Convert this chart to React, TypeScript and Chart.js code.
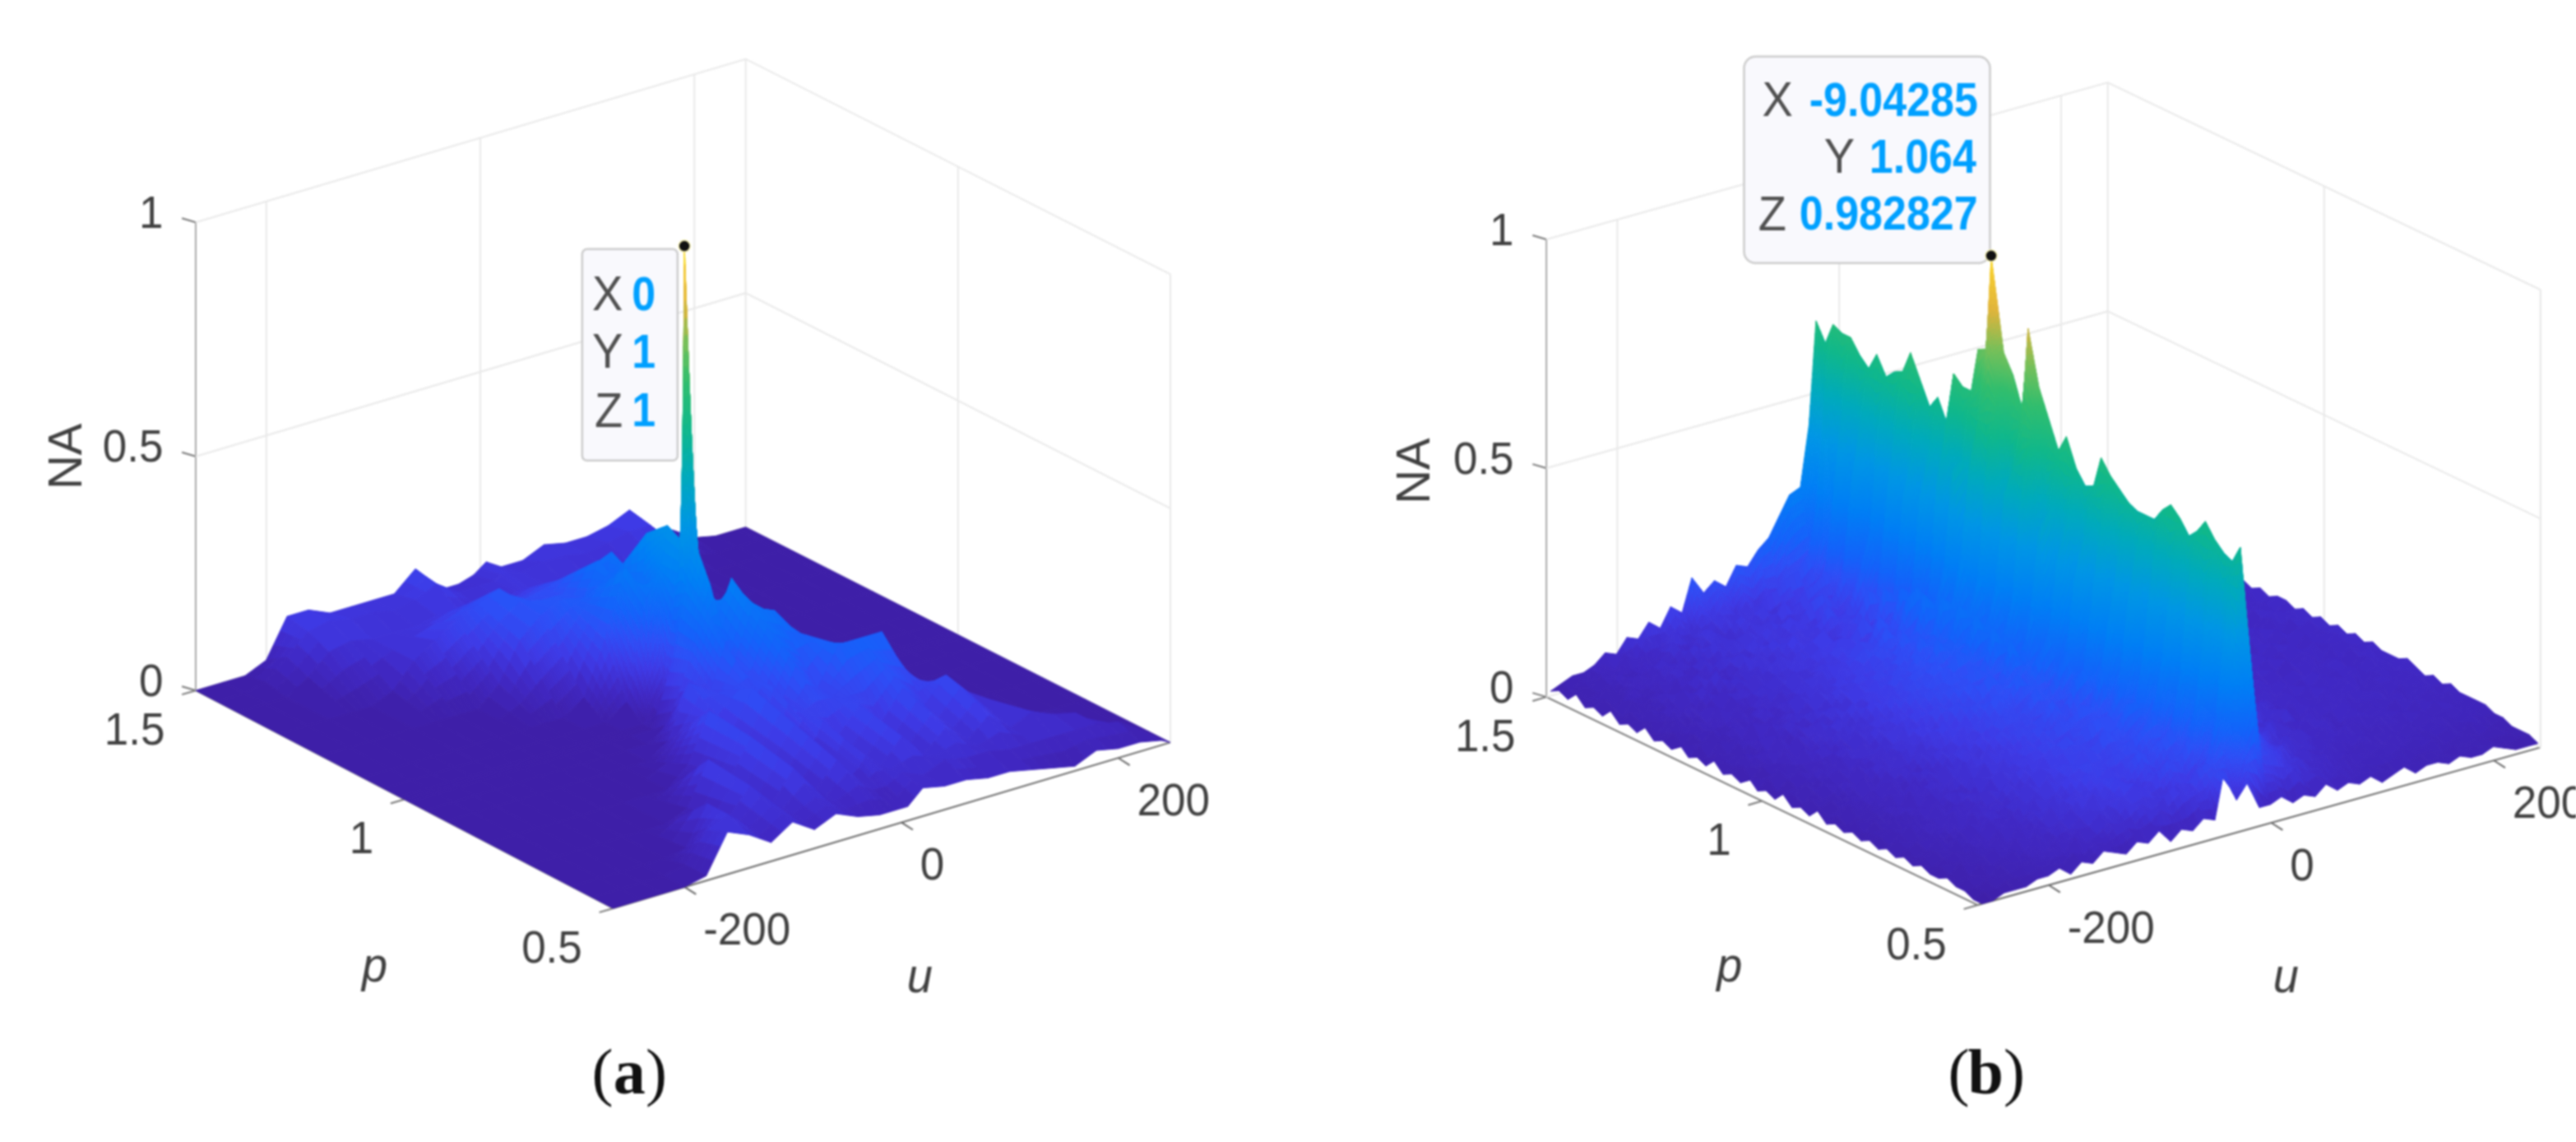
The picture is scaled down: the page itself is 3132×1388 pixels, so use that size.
import React, { useEffect, useRef } from "react";
import { Chart, registerables } from "chart.js";

Chart.register(...registerables);

// ---------- data (NA in percent) ----------
const uTicks = [-200, 0, 200];
const pTicks = [1.5, 1, 0.5];
const zTicks = [0, 0.5, 1];
const zTickLabels = ["0", "0.5", "1"];
const pTickLabels = ["1.5", "1", "0.5"];
const uTickLabels = ["-200", "0", "200"];

const uGridA = [-266, -240, -220, -200, -180, -160, -140, -120, -100, -80, -60, -40, -20, -6, 0, 6, 20, 40, 60, 80, 100, 120, 140, 160, 180, 200, 220, 240, 248];
const pGridA = [1.5, 1.45, 1.4, 1.3, 1.2, 1.1, 1.05, 1.012, 1, 0.988, 0.95, 0.9, 0.8, 0.7, 0.6, 0.55, 0.5];
const naA = [
  [0,0,0,2,10,10,8,8,8,8,12,6,6,7,8,9,7,7,9,8,8,9,11,5,4,1,0,0,0],
  [0,0,1,5,9,10,9,9,8,9,11,8,8,8,9,9,8,9,9,8,9,10,10,5,1,0,0,0,0],
  [0,0,0,3,7,8,7,7,7,8,8,7,7,8,8,8,8,7,7,7,7,7,5,1,0,0,0,0,0],
  [0,0,0,0,0,2,7,10,13,15,17,13,14,15,15,14,13,12,11,9,7,2,0,0,0,0,0,0,0],
  [0,0,0,0,0,0,0,0,4,12,16,18,17,24,18,25,17,15,9,3,0,0,0,0,0,0,0,0,0],
  [0,0,0,0,0,0,0,0,0,0,3,14,28,18,34,20,28,6,0,0,0,0,0,0,0,0,0,0,0],
  [0,0,0,0,0,0,0,0,0,0,0,3,24,30,38,22,16,0,0,0,0,0,0,0,0,0,0,0,0],
  [0,0,0,0,0,0,0,0,0,0,0,0,6,30,36,28,5,0,0,0,0,0,0,0,0,0,0,0,0],
  [0,0,0,0,0,0,0,0,0,0,0,0,4,32,100,32,4,0,0,0,0,0,0,0,0,0,0,0,0],
  [0,0,0,0,0,0,0,0,0,0,0,0,14,30,38,32,15,5,0,0,0,0,0,0,0,0,0,0,0],
  [0,0,0,0,0,0,0,0,0,0,0,3,15,26,30,22,30,20,3,0,0,0,0,0,0,0,0,0,0],
  [0,0,0,0,0,0,0,0,0,0,3,14,11,20,14,18,26,24,18,6,0,0,0,0,0,0,0,0,0],
  [0,0,0,0,0,0,0,0,0,4,14,8,16,10,15,11,18,12,20,20,20,5,0,0,0,0,0,0,0],
  [0,0,0,0,0,0,0,2,11,6,13,7,13,8,9,12,8,13,8,14,9,14,9,6,1,0,0,0,0],
  [0,0,0,0,0,1,9,5,10,5,11,5,10,6,7,9,6,11,6,10,6,10,6,8,6,5,1,0,0],
  [0,0,0,0,1,7,9,5,8,5,7,5,7,5,5,5,7,5,7,6,6,5,5,5,5,5,4,1,0],
  [0,0,0,0,1,9,7,4,7,4,6,4,3,3,3,3,6,5,5,4,4,3,2,1,3,2,2,1,0],
];

const uGridB = [-260,-250,-240,-230,-220,-210,-200,-190,-180,-170,-160,-150,-140,-130,-120,-110,-100,-90,-80,-70,-60,-50,-40,-30,-20,-10,0,10,20,30,40,50,60,70,80,90,100,110,120,130,140,150,160,170,180,190,200,210,220,230,240];
const pGridB = [1.5,1.48,1.46,1.44,1.42,1.4,1.38,1.36,1.34,1.32,1.3,1.28,1.26,1.24,1.22,1.2,1.18,1.16,1.14,1.12,1.1,1.08,1.06,1.04,1.02,1,0.98,0.96,0.94,0.92,0.9,0.88,0.86,0.84,0.82,0.8,0.78,0.76,0.74,0.72,0.7,0.68,0.66,0.64,0.62,0.6,0.58,0.56,0.54,0.52,0.5];
const naB = [
  [1,2,3,3,4,6,5,8,7,10,8,12,10,17,13,15,13,17,16,19,21,25,29,30,43,65,12,5,4,6,3,5,4,6,3,4,5,3,5,4,3,5,4,3,4,5,3,4,3,4,3],
  [2,1,3,2,5,3,6,4,8,5,7,9,6,10,8,11,7,10,7,9,8,10,10,12,20,61,10,4,6,3,5,4,6,3,5,4,3,5,4,6,3,4,5,3,5,4,3,5,4,3,4],
  [1,3,2,4,3,5,3,6,4,7,9,5,8,6,10,7,9,8,11,12,14,15,18,30,52,66,9,6,3,5,4,6,3,5,4,6,4,3,6,4,5,3,5,4,4,5,3,4,5,4,4],
  [3,1,2,3,5,2,6,4,5,8,4,7,9,6,8,10,7,11,6,8,9,9,10,12,18,65,11,3,5,6,4,3,5,6,3,5,4,6,3,5,4,6,3,5,4,3,5,4,4,5,4],
  [1,2,4,2,4,5,3,7,4,6,8,5,9,7,6,9,8,7,12,9,13,14,16,34,50,65,8,5,4,3,6,5,4,3,6,4,5,3,5,6,3,4,5,4,5,3,4,5,4,4,5],
  [2,3,1,3,5,3,6,5,7,4,7,9,6,8,9,7,10,8,7,9,7,10,9,11,16,62,10,6,3,5,4,6,3,5,5,3,6,4,4,5,5,3,6,4,3,5,5,3,5,4,4],
  [1,2,3,5,2,5,4,7,3,8,5,6,9,7,8,10,7,11,9,13,14,12,18,36,48,60,9,4,5,6,3,4,6,4,3,6,5,4,3,6,4,5,3,5,5,4,3,5,4,5,5],
  [3,1,4,2,4,3,6,4,6,5,8,7,5,10,6,9,8,9,9,7,10,9,8,12,22,64,11,5,3,5,6,3,5,4,6,4,3,5,6,3,5,4,5,4,3,6,4,4,5,4,6],
  [1,3,2,3,5,4,3,7,5,6,4,9,7,8,10,7,10,8,10,14,10,13,20,28,46,60,8,6,4,4,5,6,3,6,4,5,4,5,3,6,4,4,6,3,5,4,5,5,3,5,5],
  [2,2,4,2,4,6,4,5,8,4,7,6,9,6,8,11,8,9,8,8,12,9,10,13,18,62,10,4,6,5,3,4,6,4,5,3,6,4,5,5,3,6,4,4,6,3,5,4,5,4,6],
  [1,3,2,5,3,4,7,3,6,7,5,8,7,9,7,9,10,12,7,12,11,18,16,35,50,63,9,5,3,6,5,4,4,6,3,6,4,5,4,6,4,3,6,5,3,5,4,6,4,5,5],
  [3,1,3,3,5,3,5,6,4,6,8,5,9,7,10,8,9,10,9,10,10,9,12,15,24,68,11,6,5,4,3,6,5,3,6,4,5,4,6,3,5,5,4,3,6,5,4,4,6,4,6],
  [1,2,4,2,4,5,3,6,7,5,6,8,6,10,7,11,9,12,11,15,12,20,18,38,48,63,8,4,6,5,6,3,4,6,5,4,3,6,4,5,4,6,5,3,5,6,3,5,4,6,5],
  [2,3,2,4,3,6,4,5,4,8,6,7,9,6,9,8,12,9,10,9,12,10,12,13,20,58,10,5,3,6,4,5,6,4,3,6,5,4,6,3,6,4,4,6,4,3,6,5,4,5,6],
  [1,1,3,3,5,3,6,3,7,5,7,6,8,8,10,9,10,13,12,17,14,22,20,40,50,61,9,6,5,4,6,3,5,5,6,4,4,6,3,5,5,4,6,3,6,4,4,6,5,4,6],
  [3,2,2,4,2,5,4,6,5,6,5,9,7,10,8,11,11,12,12,11,14,12,14,14,20,56,12,4,6,6,3,6,4,4,5,6,3,5,6,4,3,6,5,4,5,6,3,5,4,6,5],
  [1,3,3,2,5,4,3,7,4,7,8,6,9,7,11,9,14,12,17,14,22,24,20,44,56,68,9,7,4,5,6,4,6,5,3,5,6,4,4,6,5,3,6,4,6,3,5,5,4,6,6],
  [2,1,4,3,3,6,5,4,6,5,7,9,7,11,8,12,10,15,11,16,12,15,16,16,22,66,11,5,8,4,5,6,4,6,5,4,6,3,6,4,5,5,4,6,3,6,4,5,6,4,5],
  [1,3,2,4,4,3,6,5,7,6,6,8,10,8,12,9,13,11,18,15,25,22,30,50,52,66,10,6,5,7,4,6,5,4,6,5,3,6,5,4,6,4,3,6,5,4,6,3,5,6,6],
  [3,2,3,2,5,5,4,7,4,8,7,6,9,11,9,13,10,16,11,17,14,18,16,18,26,76,12,8,6,5,7,4,5,6,4,6,5,5,3,6,5,4,6,4,4,6,3,6,5,4,5],
  [1,2,4,3,3,6,3,6,6,5,9,7,8,10,12,10,14,12,19,16,26,24,34,52,62,77,11,7,9,5,6,5,6,4,5,6,3,6,5,4,6,4,5,6,3,5,6,4,5,5,6],
  [2,3,2,5,4,4,6,5,8,6,7,10,7,11,9,14,11,17,12,18,15,20,20,28,62,98,14,9,7,6,8,5,4,6,6,4,6,4,5,6,3,6,5,4,6,4,4,6,5,4,6],
  [1,1,3,3,5,3,5,7,5,9,6,8,11,9,12,11,15,13,20,17,26,24,32,54,64,78,13,8,10,6,5,7,5,6,4,6,5,5,6,3,6,4,5,6,4,6,3,5,6,5,5],
  [3,2,2,4,3,6,4,6,7,6,8,7,9,12,10,14,12,17,13,18,16,20,18,22,32,74,12,10,7,8,6,5,7,4,6,5,6,3,6,5,4,6,5,3,6,5,4,6,4,6,6],
  [1,3,4,2,4,4,7,4,6,8,6,10,8,10,13,11,15,13,19,18,26,22,32,50,56,67,15,9,11,7,6,8,5,6,5,6,4,6,4,6,5,4,6,5,4,6,5,3,6,5,5],
  [2,1,3,4,3,5,3,7,5,7,9,7,11,9,11,14,12,16,13,16,14,20,18,26,60,86,16,19,10,16,9,13,7,10,6,8,6,5,6,3,6,5,5,4,6,4,6,4,5,6,6],
  [1,2,2,3,5,3,6,5,8,5,8,9,8,12,10,12,15,13,18,16,25,21,32,52,62,74,18,11,17,9,14,7,11,7,9,6,7,5,4,6,5,6,3,6,5,4,5,6,4,5,5],
  [3,2,4,2,4,5,4,6,6,7,7,10,9,9,13,11,13,16,12,15,13,18,16,20,28,68,15,18,10,15,8,12,6,10,7,8,6,4,6,5,4,6,5,4,6,5,3,6,5,5,6],
  [1,1,3,4,3,4,6,4,7,5,9,7,11,8,10,14,11,15,18,15,24,19,30,46,50,62,20,11,19,10,15,8,11,6,9,7,7,6,5,6,4,5,6,4,5,6,4,5,4,6,5],
  [2,3,2,3,5,3,5,7,5,8,6,9,8,12,9,12,14,12,14,16,13,18,15,20,30,66,17,20,12,16,9,13,7,10,6,8,6,6,4,6,5,4,6,5,4,5,6,4,5,5,6],
  [1,2,3,2,4,6,3,6,6,6,8,6,10,9,11,10,13,16,14,19,16,22,26,42,50,60,22,13,21,11,16,8,12,6,9,5,8,6,5,4,6,5,4,6,4,6,3,6,4,5,5],
  [3,1,2,4,3,4,5,5,7,4,7,9,7,11,8,13,11,14,12,12,16,14,16,18,24,57,19,22,12,18,10,13,7,11,6,9,6,4,6,5,5,6,3,5,6,4,5,4,6,4,6],
  [1,2,4,2,5,3,6,3,6,7,5,8,9,8,11,9,14,12,13,18,15,20,24,40,48,58,23,14,24,12,17,9,13,7,10,5,8,5,5,6,4,5,6,4,5,5,6,3,5,6,5],
  [2,1,2,3,3,5,4,6,4,6,8,6,10,7,10,12,10,13,12,10,14,12,15,18,28,65,18,22,13,18,10,14,7,12,6,9,6,4,6,5,6,4,5,6,4,5,5,4,6,4,5],
  [1,3,2,3,4,3,6,4,7,5,6,9,7,10,8,11,13,11,14,17,13,20,22,38,52,62,24,15,25,12,18,9,13,7,10,5,8,5,6,4,6,5,4,6,5,4,6,4,5,5,5],
  [2,1,3,2,5,4,3,6,5,7,7,6,9,8,11,9,11,14,10,13,12,13,15,16,24,60,20,24,14,19,11,14,8,11,5,9,4,6,5,6,4,6,5,4,5,6,3,5,5,4,6],
  [1,2,2,4,2,5,4,5,6,4,8,7,7,10,8,12,10,12,15,14,17,16,24,36,48,58,25,16,23,12,17,9,13,6,9,6,7,6,4,6,5,4,6,4,6,3,5,5,4,5,5],
  [2,2,3,2,4,3,6,3,7,6,5,8,9,7,11,9,13,11,10,13,10,14,12,16,24,57,21,25,15,19,11,14,8,10,5,8,6,4,6,5,4,6,4,5,5,4,5,5,4,5,4],
  [1,1,3,4,3,4,4,6,4,7,7,6,8,10,8,11,10,14,12,15,16,16,22,38,50,57,26,16,22,12,15,8,11,6,9,5,7,5,4,6,5,4,6,4,5,5,3,5,4,5,5],
  [2,3,2,2,5,3,6,4,6,5,6,9,6,9,10,9,12,11,12,10,13,14,12,14,22,57,21,24,14,17,11,13,6,10,6,5,8,4,6,4,5,6,3,5,5,4,5,3,5,4,4],
  [1,2,3,3,3,5,3,6,5,7,5,7,9,7,10,11,10,13,12,16,14,20,20,34,50,60,25,17,21,12,15,8,10,5,8,6,4,6,5,5,3,6,4,5,3,5,4,4,5,3,5],
  [2,1,2,4,2,4,5,4,7,4,8,6,8,10,8,12,11,11,11,11,13,11,15,16,26,62,20,22,13,16,9,11,7,9,5,6,5,5,6,3,5,5,4,5,4,3,5,4,3,5,4],
  [1,2,3,2,4,3,4,6,4,6,5,8,7,8,11,9,13,10,13,13,15,17,20,32,46,60,22,17,19,10,13,8,9,6,6,7,4,6,4,5,5,3,5,4,5,4,3,5,4,3,4],
  [2,1,2,3,2,5,3,5,5,5,7,6,9,7,9,12,10,12,9,12,10,14,12,14,24,57,18,20,14,14,9,10,6,8,5,6,5,4,6,4,3,5,4,4,3,5,3,4,4,3,4],
  [1,2,2,2,3,3,5,3,6,4,6,8,6,10,8,10,11,9,12,15,13,16,18,30,48,59,21,16,17,11,11,7,8,5,7,4,5,5,3,5,4,4,3,5,3,4,4,3,4,3,4],
  [1,1,3,2,3,4,3,5,4,6,5,6,8,7,10,8,12,10,8,11,9,12,13,15,28,62,19,18,13,13,9,9,6,7,4,6,4,3,5,4,3,5,3,4,3,4,3,3,4,3,3],
  [2,1,1,3,2,3,4,3,6,3,7,5,7,8,7,9,9,11,9,12,14,13,18,28,44,59,17,14,15,10,10,7,6,5,6,3,5,4,3,4,4,3,4,3,3,4,2,4,3,2,3],
  [1,2,2,1,3,3,2,5,3,5,4,6,6,8,6,10,8,9,8,7,10,9,10,12,20,57,16,15,11,11,7,8,5,6,4,5,3,4,4,3,4,3,3,4,2,3,3,2,3,2,2],
  [1,1,2,2,2,3,3,3,5,3,6,4,5,7,6,7,9,7,9,11,8,13,14,24,40,56,14,12,12,8,8,6,6,4,5,3,4,3,3,4,2,3,3,2,3,2,3,2,2,2,2],
  [0,1,1,2,2,2,3,3,2,4,3,5,4,5,6,5,6,8,6,8,9,10,13,10,30,60,10,9,7,9,5,6,4,5,3,4,3,3,2,3,3,2,3,2,2,3,2,2,1,2,2],
  [0,0,1,1,1,2,2,3,1,3,2,4,3,2,4,3,5,2,4,3,5,4,14,7,10,4,4,5,3,4,3,5,3,4,3,4,2,3,4,2,3,3,2,3,2,2,3,2,1,1,1],
];

// ---------- layout ----------
type Panel = {
  origin: number; width: number;
  L: number[]; B: number[]; F: number[]; R: number[];
  zSpan: number; lean: number; uMin: number; uMax: number;
  uGrid: number[]; pGrid: number[]; na: number[][];
  zLabelX: number; tip: { box: number[]; rows: [string, string, number, number, number][]; radius: number };
  peak: number[];
  nameLabel: number[]; pName: number[]; uName: number[]; caption: number[]; letter: string;
};

const panels: Panel[] = [
  {
    origin: 0, width: 1566,
    L: [232, 841], B: [908, 640], F: [745, 1109], R: [1430, 905],
    zSpan: 576, lean: -8, uMin: -266, uMax: 248,
    uGrid: uGridA, pGrid: pGridA, na: naA, zLabelX: 192,
    tip: { box: [707, 298, 116, 257], radius: 6, rows: [["X", "0", 357, 757, 768], ["Y", "1", 428, 757, 768], ["Z", "1", 500, 757, 768]] },
    peak: [0, 1, 1],
    nameLabel: [75, 553], pName: [452, 1182], uName: [1122, 1196], caption: [765, 1316], letter: "a",
  },
  {
    origin: 1566, width: 1566,
    L: [1875, 849], B: [2565, 656], F: [2405, 1105], R: [3097, 911],
    zSpan: 563, lean: -23, uMin: -264, uMax: 242,
    uGrid: uGridB, pGrid: pGridB, na: naB, zLabelX: 1835,
    tip: { box: [2118, 61, 299, 251], radius: 14, rows: [["X", "-9.04285", 118, 2178, 2198], ["Y", "1.064", 188, 2254, 2272], ["Z", "0.982827", 258, 2170, 2186]] },
    peak: [-10, 1.08, 0.982827],
    nameLabel: [1715, 571], pName: [2100, 1182], uName: [2784, 1196], caption: [2415, 1316], letter: "b",
  },
];

const colorStops: [number, number, number, number][] = [
  [0, 62, 31, 168], [0.05, 64, 40, 196], [0.1, 62, 58, 230], [0.15, 46, 78, 246], [0.2, 20, 98, 250],
  [0.3, 0, 128, 245], [0.4, 0, 150, 230], [0.5, 0, 170, 190], [0.6, 16, 184, 140],
  [0.7, 50, 190, 110], [0.78, 120, 192, 90], [0.86, 225, 180, 60], [0.95, 248, 208, 48], [1, 249, 251, 20],
];

function colorFor(z: number): string {
  const v = Math.max(0, Math.min(1, z));
  for (let i = 1; i < colorStops.length; i++) {
    if (v <= colorStops[i][0]) {
      const a = colorStops[i - 1], b = colorStops[i];
      const t = (v - a[0]) / (b[0] - a[0]);
      return `rgb(${Math.round(a[1] + (b[1] - a[1]) * t)},${Math.round(a[2] + (b[2] - a[2]) * t)},${Math.round(a[3] + (b[3] - a[3]) * t)})`;
    }
  }
  return "rgb(249,251,20)";
}

function project(P: Panel, u: number, p: number, z: number, lean = 0) {
  const a = (u - P.uMin) / (P.uMax - P.uMin);
  const b = 1.5 - p;
  const x = (1 - b) * ((1 - a) * P.L[0] + a * P.B[0]) + b * ((1 - a) * P.F[0] + a * P.R[0]);
  const y = (1 - b) * ((1 - a) * P.L[1] + a * P.B[1]) + b * ((1 - a) * P.F[1] + a * P.R[1]);
  return { x: x + lean * z, y: y - z * P.zSpan };
}

function lineDs(points: { x: number; y: number }[], color: string, width: number) {
  return { type: "scatter", data: points, showLine: true, borderColor: color, borderWidth: width, pointRadius: 0, order: 3, clip: false };
}

function buildDatasets(P: Panel) {
  const grid = "#e9e9e9";
  const ds: any[] = [];
  const c = (u: number, p: number, z: number) => project(P, u, p, z);
  zTicks.forEach((z) => ds.push(lineDs([c(P.uMin, 1.5, z), c(P.uMax, 1.5, z), c(P.uMax, 0.5, z)], grid, 2)));
  uTicks.forEach((u) => ds.push(lineDs([c(u, 1.5, 0), c(u, 1.5, 1)], grid, 2)));
  pTicks.slice(1).forEach((p) => ds.push(lineDs([c(P.uMax, p, 0), c(P.uMax, p, 1)], grid, 2)));
  ds.push(lineDs([c(P.uMax, 1.5, 0), c(P.uMax, 1.5, 1)], grid, 2));
  ds.push(lineDs([c(P.uMax, 0.5, 0), c(P.uMax, 0.5, 1)], grid, 2));
  ds.push(lineDs([c(P.uMin, 1.5, 0), c(P.uMin, 1.5, 1)], "#a8a8a8", 2));
  ds.push(lineDs([c(P.uMin, 1.5, 0), c(P.uMin, 0.5, 0)], "#777777", 2));
  ds.push(lineDs([c(P.uMin, 0.5, 0), c(P.uMax, 0.5, 0)], "#666666", 2));
  zTicks.forEach((z) => {
    const s = c(P.uMin, 1.5, z);
    ds.push(lineDs([s, { x: s.x - 17, y: s.y - 5 }], "#777777", 2));
  });
  pTicks.forEach((p) => {
    const s = c(P.uMin, p, 0);
    ds.push(lineDs([s, { x: s.x - 17, y: s.y + 5 }], "#777777", 2));
  });
  uTicks.forEach((u) => {
    const s = c(u, 0.5, 0);
    ds.push(lineDs([s, { x: s.x + 14, y: s.y + 9 }], "#666666", 2));
  });
  P.pGrid.forEach((p, i) => {
    ds.push({
      type: "scatter", role: "surface", order: 2, pointRadius: 0, showLine: false, clip: false,
      zValues: P.uGrid.map((_, j) => (P.na[i][j] ?? 0) / 100),
      data: P.uGrid.map((u, j) => project(P, u, p, (P.na[i][j] ?? 0) / 100, P.lean)),
    });
  });
  ds.push({
    type: "scatter", role: "marker", order: 1, clip: false,
    data: [project(P, P.peak[0], P.peak[1], P.peak[2], P.lean)],
    pointRadius: 7, backgroundColor: "#111111", borderColor: "#f5f0b0", borderWidth: 1.5,
  });
  return ds;
}

function paintSurface(chart: any) {
  const ctx = chart.ctx as CanvasRenderingContext2D;
  const rows = chart.data.datasets
    .map((d: any, i: number) => ({ d, meta: chart.getDatasetMeta(i) }))
    .filter((r: any) => r.d.role === "surface");
  ctx.save();
  ctx.lineWidth = 1;
  ctx.lineJoin = "round";
  const quad = (p: number[][], z: number) => {
    const col = colorFor(z);
    ctx.fillStyle = col;
    ctx.strokeStyle = col;
    ctx.beginPath();
    ctx.moveTo(p[0][0], p[0][1]);
    for (let i = 1; i < 4; i++) ctx.lineTo(p[i][0], p[i][1]);
    ctx.closePath();
    ctx.fill();
    ctx.stroke();
  };
  const mix = (a: number, b: number, c: number, d: number, s: number, t: number) =>
    (1 - s) * ((1 - t) * a + t * b) + s * ((1 - t) * d + t * c);
  for (let i = 0; i < rows.length - 1; i++) {
    const back = rows[i], front = rows[i + 1];
    for (let j = back.meta.data.length - 2; j >= 0; j--) {
      const A = back.meta.data[j], B = back.meta.data[j + 1], C = front.meta.data[j + 1], D = front.meta.data[j];
      const za = back.d.zValues[j], zb = back.d.zValues[j + 1], zc = front.d.zValues[j + 1], zd = front.d.zValues[j];
      const range = Math.max(za, zb, zc, zd) - Math.min(za, zb, zc, zd);
      const n = Math.max(1, Math.min(16, Math.ceil(range / 0.03)));
      for (let s = 0; s < n; s++) {
        for (let t = n - 1; t >= 0; t--) {
          const s0 = s / n, s1 = (s + 1) / n, t0 = t / n, t1 = (t + 1) / n;
          const pt = (ss: number, tt: number) => [mix(A.x, B.x, C.x, D.x, ss, tt), mix(A.y, B.y, C.y, D.y, ss, tt)];
          quad([pt(s0, t0), pt(s0, t1), pt(s1, t1), pt(s1, t0)], mix(za, zb, zc, zd, (s0 + s1) / 2, (t0 + t1) / 2));
        }
      }
    }
  }
  ctx.restore();
}

function text(ctx: CanvasRenderingContext2D, str: string, x: number, y: number, font: string, color: string, align: CanvasTextAlign, rotate = 0, sy = 1.06) {
  ctx.save();
  ctx.translate(x, y);
  if (rotate) ctx.rotate(rotate);
  ctx.scale(1, sy);
  ctx.font = font;
  ctx.fillStyle = color;
  ctx.textAlign = align;
  ctx.textBaseline = "middle";
  ctx.fillText(str, 0, 0);
  ctx.restore();
}

function panelPlugin(P: Panel) {
  const sans = '"Liberation Sans"';
  return {
    id: "panel" + P.letter,
    beforeDatasetDraw(chart: any, args: any) {
      if (chart.data.datasets[args.index].role !== "marker") return;
      paintSurface(chart);
      const ctx = chart.ctx as CanvasRenderingContext2D;
      const sx = chart.scales.x, sy = chart.scales.y;
      const [bx, by, bw, bh] = P.tip.box;
      ctx.save();
      ctx.beginPath();
      ctx.roundRect(sx.getPixelForValue(bx), sy.getPixelForValue(by), bw, bh, P.tip.radius);
      ctx.fillStyle = "#f9f9fd";
      ctx.strokeStyle = "#cccccc";
      ctx.lineWidth = 2.5;
      ctx.fill();
      ctx.stroke();
      ctx.restore();
    },
    afterDraw(chart: any) {
      const ctx = chart.ctx as CanvasRenderingContext2D;
      const X = (v: number) => chart.scales.x.getPixelForValue(v);
      const Y = (v: number) => chart.scales.y.getPixelForValue(v);
      const labelColor = "#404040";
      const tickFont = `53px ${sans}`;
      zTicks.forEach((z, i) => {
        const s = project(P, P.uMin, 1.5, z);
        text(ctx, zTickLabels[i], X(P.zLabelX), Y(s.y - 9), tickFont, labelColor, "right");
      });
      pTicks.forEach((p, i) => {
        const s = project(P, P.uMin, p, 0);
        text(ctx, pTickLabels[i], X(s.x - 38), Y(s.y + 51), tickFont, labelColor, "right");
      });
      uTicks.forEach((u, i) => {
        const s = project(P, u, 0.5, 0);
        text(ctx, uTickLabels[i], X(s.x + 23), Y(s.y + 55), tickFont, labelColor, "left");
      });
      text(ctx, "NA", X(P.nameLabel[0]), Y(P.nameLabel[1]), `58px ${sans}`, labelColor, "center", -Math.PI / 2, 1);
      text(ctx, "p", X(P.pName[0]), Y(P.pName[1]), `italic 56px ${sans}`, labelColor, "center");
      text(ctx, "u", X(P.uName[0]), Y(P.uName[1]), `italic 56px ${sans}`, labelColor, "center");
      P.tip.rows.forEach(([key, val, y, kx, vx]) => {
        text(ctx, key, X(kx), Y(y), `56px ${sans}`, "#505050", "right", 0, 1.05);
        text(ctx, val, X(vx), Y(y), `bold 52px ${sans}`, "#00a0ff", "left", 0, 1.12);
      });
      // caption
      const font = '"Liberation Serif"';
      const cx = P.caption[0], cy = P.caption[1];
      const size = 78;
      text(ctx, "(", X(cx - 20), Y(cy), `${size}px ${font}`, "#111111", "right", 0, 1);
      text(ctx, P.letter, X(cx), Y(cy), `bold ${size}px ${font}`, "#111111", "center", 0, 1);
      text(ctx, ")", X(cx + 20 + (P.letter === "b" ? 2 : 0)), Y(cy), `${size}px ${font}`, "#111111", "left", 0, 1);
    },
  };
}

function SurfaceChart({ panel }: { panel: Panel }) {
  const ref = useRef<HTMLCanvasElement | null>(null);
  useEffect(() => {
    const chart = new Chart(ref.current as HTMLCanvasElement, {
      type: "scatter",
      data: { datasets: buildDatasets(panel) as any },
      options: {
        animation: false,
        responsive: false,
        maintainAspectRatio: false,
        events: [],
        layout: { padding: 0 },
        plugins: { legend: { display: false }, tooltip: { enabled: false }, title: { display: false } },
        scales: {
          x: { type: "linear", min: panel.origin, max: panel.origin + panel.width, display: false },
          y: { type: "linear", min: 0, max: 1388, reverse: true, display: false },
        },
      },
      plugins: [panelPlugin(panel) as any],
    });
    return () => chart.destroy();
  }, [panel]);
  return (
    <canvas
      ref={ref}
      width={panel.width}
      height={1388}
      style={{ position: "absolute", left: panel.origin, top: 0, width: panel.width, height: 1388, display: "block", filter: "blur(0.8px)" }}
    />
  );
}

export default function App() {
  return (
    <div style={{ position: "absolute", left: 0, top: 0, width: 3132, height: 1388, background: "#ffffff", overflow: "hidden" }}>
      {panels.map((p) => (
        <SurfaceChart key={p.letter} panel={p} />
      ))}
    </div>
  );
}
